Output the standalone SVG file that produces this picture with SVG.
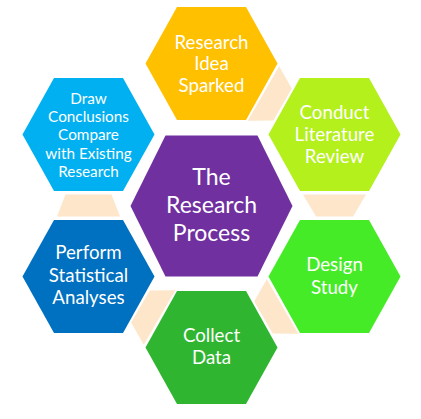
<svg xmlns="http://www.w3.org/2000/svg" width="421" height="419" viewBox="0 0 421 419">
<style>
.conn{fill:#FDE6C9}
.t{fill:#FFFFFF;font-family:Lato,"Liberation Sans",sans-serif;text-anchor:middle;font-size:18.7px}
.s{font-size:15.3px}
.b{font-size:23px}
</style>
<rect width="421" height="419" fill="#FFFFFF"/>
<g id="connectors">
<polygon class="conn" points="279.22,66.22 291.78,88.48 273.28,120.52 247.72,120.78"/>
<polygon class="conn" points="303,194.5 366,194.5 353,216.5 316,216.5"/>
<polygon class="conn" points="266.78,279.22 298.28,333.78 272.72,333.52 254.22,301.48"/>
<polygon class="conn" points="175.28,290.22 143.78,344.78 131.22,322.52 149.72,290.48"/>
<polygon class="conn" points="57,216.5 120,216.5 111.5,194.5 65.5,194.5"/>
</g>
<g id="idea">
<polygon fill="#FFC000" points="177,7 246,7 277.5,63.5 246,120 177,120 145.5,63.5"/>
<text class="t" x="211.5" y="48.5">Research</text>
<text class="t" x="211.5" y="70">Idea</text>
<text class="t" x="211.5" y="91.5">Sparked</text>
</g>
<g id="literature">
<polygon fill="#B3F01C" points="300,78 369,78 400.5,134.5 369,191 300,191 268.5,134.5"/>
<text class="t" x="334.5" y="118.5">Conduct</text>
<text class="t" x="334.5" y="141">Literature</text>
<text class="t" x="334.5" y="163">Review</text>
</g>
<g id="design">
<polygon fill="#46EB28" points="300,220 369,220 400.5,276.5 369,333 300,333 268.5,276.5"/>
<text class="t" x="334.5" y="271">Design</text>
<text class="t" x="334.5" y="293.5">Study</text>
</g>
<g id="collect">
<polygon fill="#30B530" points="177,291 246,291 277.5,347.5 246,404 177,404 145.5,347.5"/>
<text class="t" x="211.5" y="341.5">Collect</text>
<text class="t" x="211.5" y="364">Data</text>
</g>
<g id="perform">
<polygon fill="#0070C0" points="54,220 123,220 154.5,276.5 123,333 54,333 22.5,276.5"/>
<text class="t" x="88.5" y="259">Perform</text>
<text class="t" x="88.5" y="281.5">Statistical</text>
<text class="t" x="88.5" y="304">Analyses</text>
</g>
<g id="conclusions">
<polygon fill="#00B0F0" points="54,78 123,78 154.5,134.5 123,191 54,191 22.5,134.5"/>
<text class="t s" x="88.5" y="104">Draw</text>
<text class="t s" x="88.5" y="122.2">Conclusions</text>
<text class="t s" x="88.5" y="140.4">Compare</text>
<text class="t s" x="88.5" y="158.6">with Existing</text>
<text class="t s" x="88.5" y="176.8">Research</text>
</g>
<g id="center">
<polygon fill="#7030A0" points="165.5,135.5 257.5,135.5 292.5,206 257.5,276.5 165.5,276.5 130.5,206"/>
<text class="t b" x="211.5" y="185">The</text>
<text class="t b" x="211.5" y="213.3">Research</text>
<text class="t b" x="211.5" y="241">Process</text>
</g>
</svg>
